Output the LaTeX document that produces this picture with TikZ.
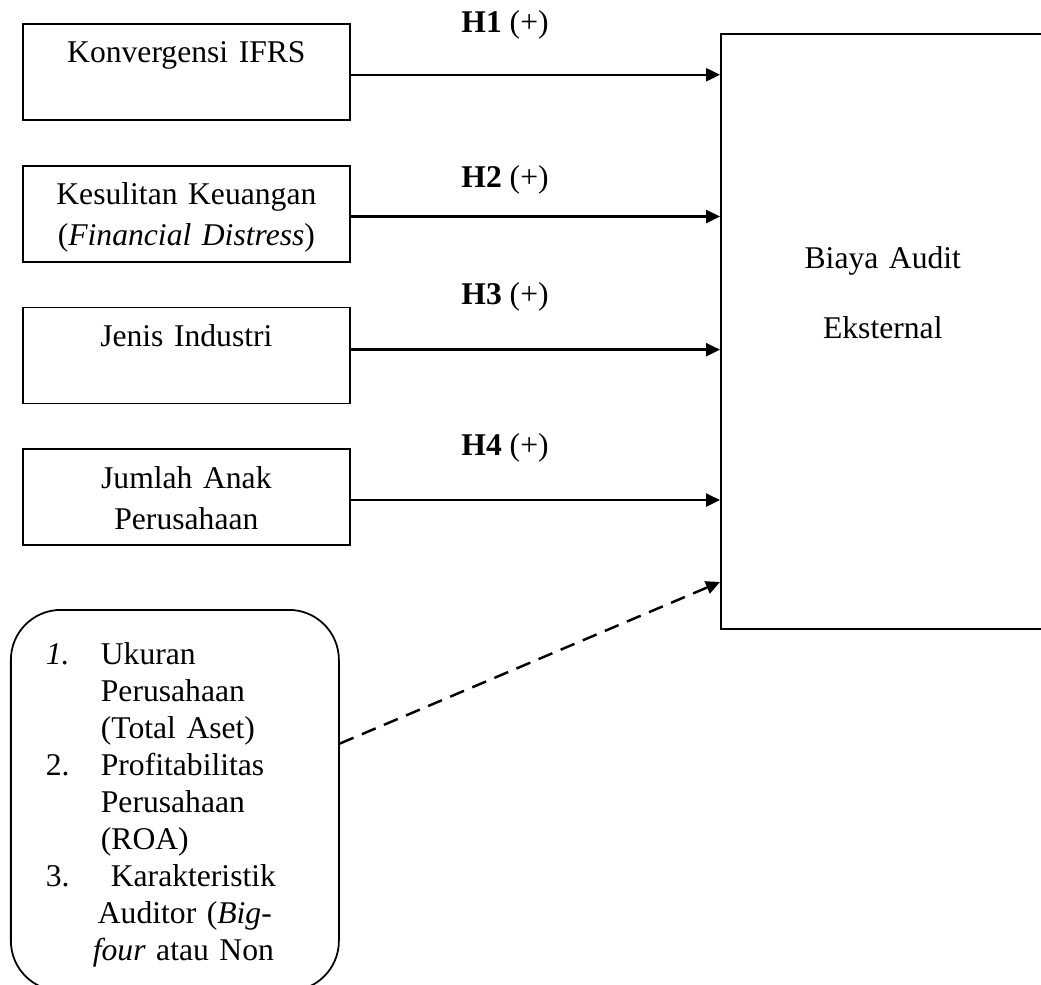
\documentclass[tikz,border=0pt]{standalone}
\usepackage{fontspec}
\setmainfont{Liberation Serif}
\usepackage{tikz}
\usetikzlibrary{arrows.meta,positioning}
\tikzset{
  >={Triangle[length=0.28cm,width=0.26cm]},
  varbox/.style={
    rectangle,
    draw=black, line width=1pt,
    anchor=north west,
    inner sep=0pt,
    text width=6.54cm,
    text height=0.78cm,
    text depth=1.14cm,
    align=center,
    font=\fontsize{18}{23.3}\selectfont
  },
  hasil/.style={
    rectangle,
    draw=black, line width=0.9pt,
    anchor=north west,
    inner sep=0pt,
    text width=6.48cm,
    text height=4.70cm,
    text depth=7.20cm,
    align=center,
    font=\fontsize{18}{39.8}\selectfont
  },
  kontrol/.style={
    rectangle,
    rounded corners=1cm,
    draw=black, line width=1pt,
    anchor=north west,
    inner xsep=0.70cm, inner ysep=0pt,
    text width=5.16cm,
    text height=1.10cm,
    text depth=6.52cm,
    align=left,
    font=\fontsize{18}{21}\selectfont
  },
  hyp/.style={inner sep=0pt, font=\fontsize{18}{20}\selectfont},
  panah/.style={draw, line width=1.4pt, ->},
  putus/.style={draw, line width=1.4pt, ->, dash pattern=on 0.3cm off 0.18cm},
}
\newcommand{\nomor}[1]{\makebox[1.10cm][l]{#1}}

\begin{document}
\begin{tikzpicture}
    [node distance=0.88cm]
    \useasboundingbox (0,0) rectangle (20.82,-19.68);
    % variabel independen
    \node[varbox] (konv) at (0.44,-0.46) {Konvergensi IFRS};
    \node[varbox, below=of konv] (sulit) {Kesulitan Keuangan\\(\textit{Financial Distress})};
    \node[varbox, below=of sulit] (jenis) {Jenis Industri};
    \node[varbox, below=of jenis] (anak) {Jumlah Anak\\Perusahaan};
    % variabel dependen
    \node[hasil] (biaya) at (14.40,-0.66) {Biaya Audit\\Eksternal};
    % variabel kontrol
    \node[kontrol] (ktrl) at (0.20,-12.18) {%
      \nomor{\textit{1.}}Ukuran\\
      \hspace*{1.10cm}Perusahaan\\
      \hspace*{1.10cm}(Total Aset)\\
      \nomor{2.}Profitabilitas\\
      \hspace*{1.10cm}Perusahaan\\
      \hspace*{1.10cm}(ROA)\\
      \nomor{3.}\hspace*{0.2cm}Karakteristik\\
      \hspace*{1.04cm}Auditor (\textit{Big-}\\
      \hspace*{0.94cm}\textit{four} atau Non};
    % hipotesis
    \node[hyp] (h1) at (10.10,-0.50) {\textbf{H1} (+)};
    \node[hyp] (h2) at (10.10,-3.60) {\textbf{H2} (+)};
    \node[hyp] (h3) at (10.10,-5.94) {\textbf{H3} (+)};
    \node[hyp] (h4) at (10.10,-8.96) {\textbf{H4} (+)};
    \draw[panah] (konv.-1.75) -- (konv.-1.75 -| biaya.west);
    \draw[panah] (sulit.-1.75) -- (sulit.-1.75 -| biaya.west);
    \draw[panah] (jenis.2.45) -- (jenis.2.45 -| biaya.west);
    \draw[panah] (anak.-1.05) -- (anak.-1.05 -| biaya.west);
    \draw[putus] (ktrl.19.9) -- (biaya.237.2);
\end{tikzpicture}
\end{document}
